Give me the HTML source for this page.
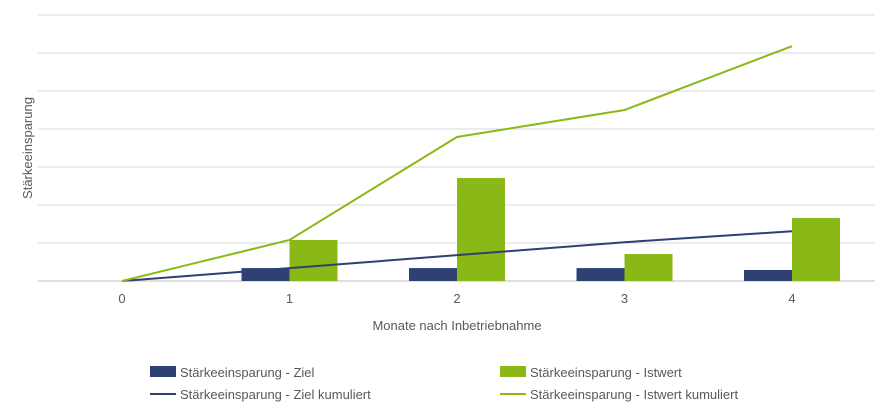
<!DOCTYPE html>
<html><head><meta charset="utf-8"><style>
body{margin:0;background:#fff;}
svg{display:block;font-family:"Liberation Sans",sans-serif;}
text{fill:#595959;}
</style></head><body>
<svg id="chart" width="891" height="412" viewBox="0 0 891 412">
<g id="grid"></g>
<g id="bars"></g>
<g id="lines"></g>
<g id="xticks"></g>
<text transform="translate(32,148) rotate(-90)" text-anchor="middle" font-size="13">Stärkeeinsparung</text>
<text x="457" y="330" text-anchor="middle" font-size="13">Monate nach Inbetriebnahme</text>
<g font-size="13">
<g><rect x="150" y="366" width="26" height="11" fill="#2E4173"/><text x="180" y="377">Stärkeeinsparung - Ziel</text></g>
<g><rect x="500" y="366" width="26" height="11" fill="#8AB917"/><text x="530" y="377">Stärkeeinsparung - Istwert</text></g>
<g><line x1="150" y1="394" x2="176" y2="394" stroke="#2E4173" stroke-width="2"/><text x="180" y="399">Stärkeeinsparung - Ziel kumuliert</text></g>
<g><line x1="500" y1="394" x2="526" y2="394" stroke="#8AB917" stroke-width="2"/><text x="530" y="399">Stärkeeinsparung - Istwert kumuliert</text></g>
</g>
</svg>
<script>
const categories=["0","1","2","3","4"];
const ziel=[0,0.34,0.34,0.34,0.29];
const istwert=[0,1.08,2.71,0.71,1.66];
const zielKum=[0,0.34,0.68,1.02,1.31];
const istwertKum=[0,1.08,3.79,4.5,6.18];
const gridValues=[0,1,2,3,4,5,6,7];
const NS="http://www.w3.org/2000/svg";
const y0=281,unit=38,x0=122,step=167.5,bw=48;
const ys=v=>y0-v*unit;
const xs=i=>x0+i*step;
function mk(t,a,p){const e=document.createElementNS(NS,t);for(const k in a)e.setAttribute(k,a[k]);p.appendChild(e);return e;}
const g=document.getElementById('grid');
gridValues.forEach(v=>{const l=mk('line',{x1:38,x2:875,y1:ys(v),y2:ys(v),stroke:v===0?'#bfbfbf':'#d9d9d9','stroke-width':1},g);

});
const b=document.getElementById('bars');
categories.forEach((c,i)=>{
 if(ziel[i]>0){const r=mk('rect',{x:xs(i)-bw,y:ys(ziel[i]),width:bw,height:ziel[i]*unit,fill:'#2E4173'},b);
 
 }
 if(istwert[i]>0){const r=mk('rect',{x:xs(i),y:ys(istwert[i]),width:bw,height:istwert[i]*unit,fill:'#8AB917'},b);
 
 }
 const t=mk('text',{x:xs(i),y:303,'text-anchor':'middle','font-size':13},document.getElementById('xticks'));t.textContent=c;
 
 
});
const L=document.getElementById('lines');
const p1=mk('polyline',{points:zielKum.map((v,i)=>xs(i)+','+ys(v)).join(' '),fill:'none',stroke:'#2E4173','stroke-width':2},L);


const p2=mk('polyline',{points:istwertKum.map((v,i)=>xs(i)+','+ys(v)).join(' '),fill:'none',stroke:'#8AB917','stroke-width':2},L);


</script>
</body></html>
